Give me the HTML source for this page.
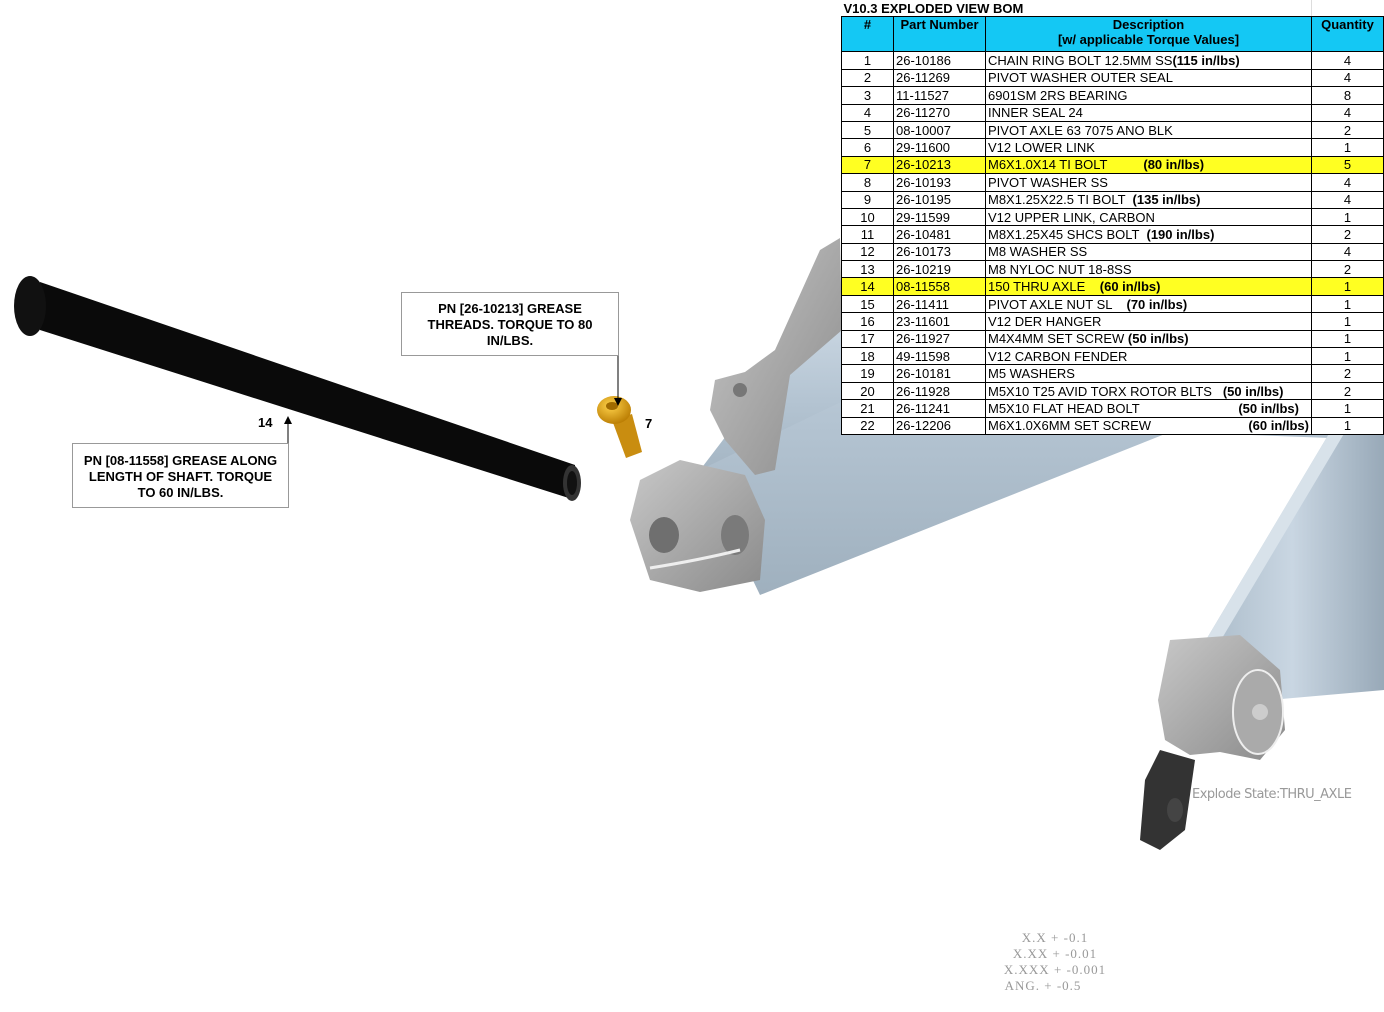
<!DOCTYPE html>
<html><head><meta charset="utf-8"><style>
body{margin:0;width:1384px;height:1012px;background:#fff;position:relative;overflow:hidden;font-family:"Liberation Sans",sans-serif}
.box{position:absolute;border:1px solid #999;background:#fff;font-weight:bold;font-size:13px;text-align:center;line-height:16px;box-sizing:border-box}
.lbl{position:absolute;font-weight:bold;font-size:13px}
table{position:absolute;left:841px;top:0;border-collapse:collapse;font-size:13px;background:#fff}
td{border:1px solid #000;padding:0 2px;height:16.4px;line-height:15px;white-space:nowrap}
td.c{text-align:center}
tr.h td{background:#14c8f4;font-weight:bold;text-align:center;vertical-align:top;height:34px}
tr.y td{background:#ffff22}
.tol{position:absolute;left:990px;top:930px;color:#999;font-family:"Liberation Serif",serif;font-size:13px;line-height:16px;text-align:center;width:130px;letter-spacing:1px}
</style></head><body>
<svg width="1384" height="1012" style="position:absolute;left:0;top:0">
<defs>
<linearGradient id="tb" x1="0" y1="0" x2="0" y2="1"><stop offset="0" stop-color="#cfdbe6"/><stop offset=".5" stop-color="#b4c4d2"/><stop offset="1" stop-color="#9fb0be"/></linearGradient>
<linearGradient id="ss" x1="0" y1="0" x2="1" y2="0"><stop offset="0" stop-color="#a9bac8"/><stop offset=".5" stop-color="#c9d6e2"/><stop offset="1" stop-color="#98a9b8"/></linearGradient>
<linearGradient id="gr" x1="0" y1="0" x2="1" y2="1"><stop offset="0" stop-color="#c8c8c8"/><stop offset="1" stop-color="#8a8a8a"/></linearGradient>
<radialGradient id="au" cx=".4" cy=".35" r=".7"><stop offset="0" stop-color="#ffd24a"/><stop offset="1" stop-color="#b87a00"/></radialGradient>
</defs>
<polygon points="700,470 830,300 845,300 845,420 770,500" fill="url(#tb)"/>
<polygon points="700,470 845,400 1384,240 1384,440 1170,432 760,595" fill="url(#tb)"/>
<polygon points="1330,432 1384,432 1384,690 1270,700 1200,650" fill="url(#ss)"/>
<polygon points="1330,432 1345,432 1215,650 1200,650" fill="#d8e2ea"/>
<polygon points="820,250 840,238 842,330 790,375 775,470 755,475 725,440 710,410 715,380 745,372 775,350" fill="url(#gr)"/>
<circle cx="740" cy="390" r="7" fill="#777"/>
<path d="M640,480 L680,460 L745,475 L765,520 L760,580 L700,592 L650,580 L630,520 Z" fill="url(#gr)"/>
<ellipse cx="664" cy="535" rx="15" ry="18" fill="#6f6f6f"/>
<ellipse cx="735" cy="535" rx="14" ry="20" fill="#7a7a7a"/>
<path d="M650,568 Q700,560 740,550" stroke="#eee" stroke-width="3" fill="none"/>
<path d="M1145,780 L1140,840 L1160,850 L1185,830 L1195,760 L1160,750 Z" fill="#333"/>
<ellipse cx="1175" cy="810" rx="8" ry="12" fill="#444"/>
<path d="M1170,640 L1240,635 L1280,670 L1285,730 L1260,760 L1220,752 L1190,755 L1165,740 L1158,700 Z" fill="url(#gr)"/>
<ellipse cx="1258" cy="712" rx="25" ry="42" fill="#aaa" stroke="#eee" stroke-width="2"/>
<circle cx="1260" cy="712" r="8" fill="#ccc"/>
<polygon points="40,282 575,465 575,500 40,330" fill="#0a0a0a"/>
<ellipse cx="30" cy="306" rx="16" ry="30" fill="#111"/>
<ellipse cx="572" cy="483" rx="9" ry="18" fill="#333"/>
<ellipse cx="572" cy="483" rx="5" ry="12" fill="#111"/>
<polygon points="612,420 632,414 642,452 626,458" fill="#c98d10"/>
<ellipse cx="614" cy="410" rx="17" ry="14" fill="url(#au)"/>
<ellipse cx="612" cy="406" rx="6" ry="4" fill="#a06a00"/>
<line x1="618" y1="322" x2="618" y2="398" stroke="#000"/>
<polygon points="614,398 622,398 618,406" fill="#000"/>
<line x1="288" y1="443" x2="288" y2="424" stroke="#000"/>
<polygon points="284,424 292,424 288,416" fill="#000"/>
</svg>
<div class="box" style="left:401px;top:292px;width:218px;height:64px;padding-top:8px">PN [26-10213] GREASE<br>THREADS. TORQUE TO 80<br>IN/LBS.</div>
<div class="box" style="left:72px;top:443px;width:217px;height:65px;padding-top:9px">PN [08-11558] GREASE ALONG<br>LENGTH OF SHAFT. TORQUE<br>TO 60 IN/LBS.</div>
<div class="lbl" style="left:258px;top:415px">14</div>
<div class="lbl" style="left:645px;top:416px">7</div>
<div style="position:absolute;left:1192px;top:787px;color:#999;font-size:13px;font-family:'DejaVu Sans',sans-serif;letter-spacing:-0.5px">Explode State:THRU_AXLE</div>
<div class="tol">X.X + -0.1<br>X.XX + -0.01<br>X.XXX + -0.001<br><span style="position:relative;left:-12px">ANG. + -0.5</span></div>
<table>
<colgroup><col style="width:52px"><col style="width:92px"><col style="width:326px"><col style="width:72px"></colgroup>
<tr><td colspan="3" style="font-weight:bold;border:none;border-bottom:1px solid #000">V10.3 EXPLODED VIEW BOM</td><td style="border:none;border-left:1px solid #ddd;border-bottom:1px solid #000"></td></tr>
<tr class="h"><td>#</td><td>Part Number</td><td>Description<br>[w/ applicable Torque Values]</td><td>Quantity</td></tr>
<tr><td class="c">1</td><td>26-10186</td><td>CHAIN RING BOLT 12.5MM SS<b>(115 in/lbs)</b></td><td class="c">4</td></tr>
<tr><td class="c">2</td><td>26-11269</td><td>PIVOT WASHER OUTER SEAL</td><td class="c">4</td></tr>
<tr><td class="c">3</td><td>11-11527</td><td>6901SM 2RS BEARING</td><td class="c">8</td></tr>
<tr><td class="c">4</td><td>26-11270</td><td>INNER SEAL 24</td><td class="c">4</td></tr>
<tr><td class="c">5</td><td>08-10007</td><td>PIVOT AXLE 63 7075 ANO BLK</td><td class="c">2</td></tr>
<tr><td class="c">6</td><td>29-11600</td><td>V12 LOWER LINK</td><td class="c">1</td></tr>
<tr class="y"><td class="c">7</td><td>26-10213</td><td>M6X1.0X14 TI BOLT &nbsp; &nbsp; &nbsp; &nbsp; &nbsp;<b>(80 in/lbs)</b></td><td class="c">5</td></tr>
<tr><td class="c">8</td><td>26-10193</td><td>PIVOT WASHER SS</td><td class="c">4</td></tr>
<tr><td class="c">9</td><td>26-10195</td><td>M8X1.25X22.5 TI BOLT &nbsp;<b>(135 in/lbs)</b></td><td class="c">4</td></tr>
<tr><td class="c">10</td><td>29-11599</td><td>V12 UPPER LINK, CARBON</td><td class="c">1</td></tr>
<tr><td class="c">11</td><td>26-10481</td><td>M8X1.25X45 SHCS BOLT &nbsp;<b>(190 in/lbs)</b></td><td class="c">2</td></tr>
<tr><td class="c">12</td><td>26-10173</td><td>M8 WASHER SS</td><td class="c">4</td></tr>
<tr><td class="c">13</td><td>26-10219</td><td>M8 NYLOC NUT 18-8SS</td><td class="c">2</td></tr>
<tr class="y"><td class="c">14</td><td>08-11558</td><td>150 THRU AXLE &nbsp; &nbsp;<b>(60 in/lbs)</b></td><td class="c">1</td></tr>
<tr><td class="c">15</td><td>26-11411</td><td>PIVOT AXLE NUT SL &nbsp; &nbsp;<b>(70 in/lbs)</b></td><td class="c">1</td></tr>
<tr><td class="c">16</td><td>23-11601</td><td>V12 DER HANGER</td><td class="c">1</td></tr>
<tr><td class="c">17</td><td>26-11927</td><td>M4X4MM SET SCREW <b>(50 in/lbs)</b></td><td class="c">1</td></tr>
<tr><td class="c">18</td><td>49-11598</td><td>V12 CARBON FENDER</td><td class="c">1</td></tr>
<tr><td class="c">19</td><td>26-10181</td><td>M5 WASHERS</td><td class="c">2</td></tr>
<tr><td class="c">20</td><td>26-11928</td><td>M5X10 T25 AVID TORX ROTOR BLTS &nbsp; <b>(50 in/lbs)</b></td><td class="c">2</td></tr>
<tr><td class="c">21</td><td>26-11241</td><td>M5X10 FLAT HEAD BOLT<span style="float:right;font-weight:bold;padding-right:10px">(50 in/lbs)</span></td><td class="c">1</td></tr>
<tr><td class="c">22</td><td>26-12206</td><td>M6X1.0X6MM SET SCREW<span style="float:right;font-weight:bold">(60 in/lbs)</span></td><td class="c">1</td></tr>
</table>
</body></html>
